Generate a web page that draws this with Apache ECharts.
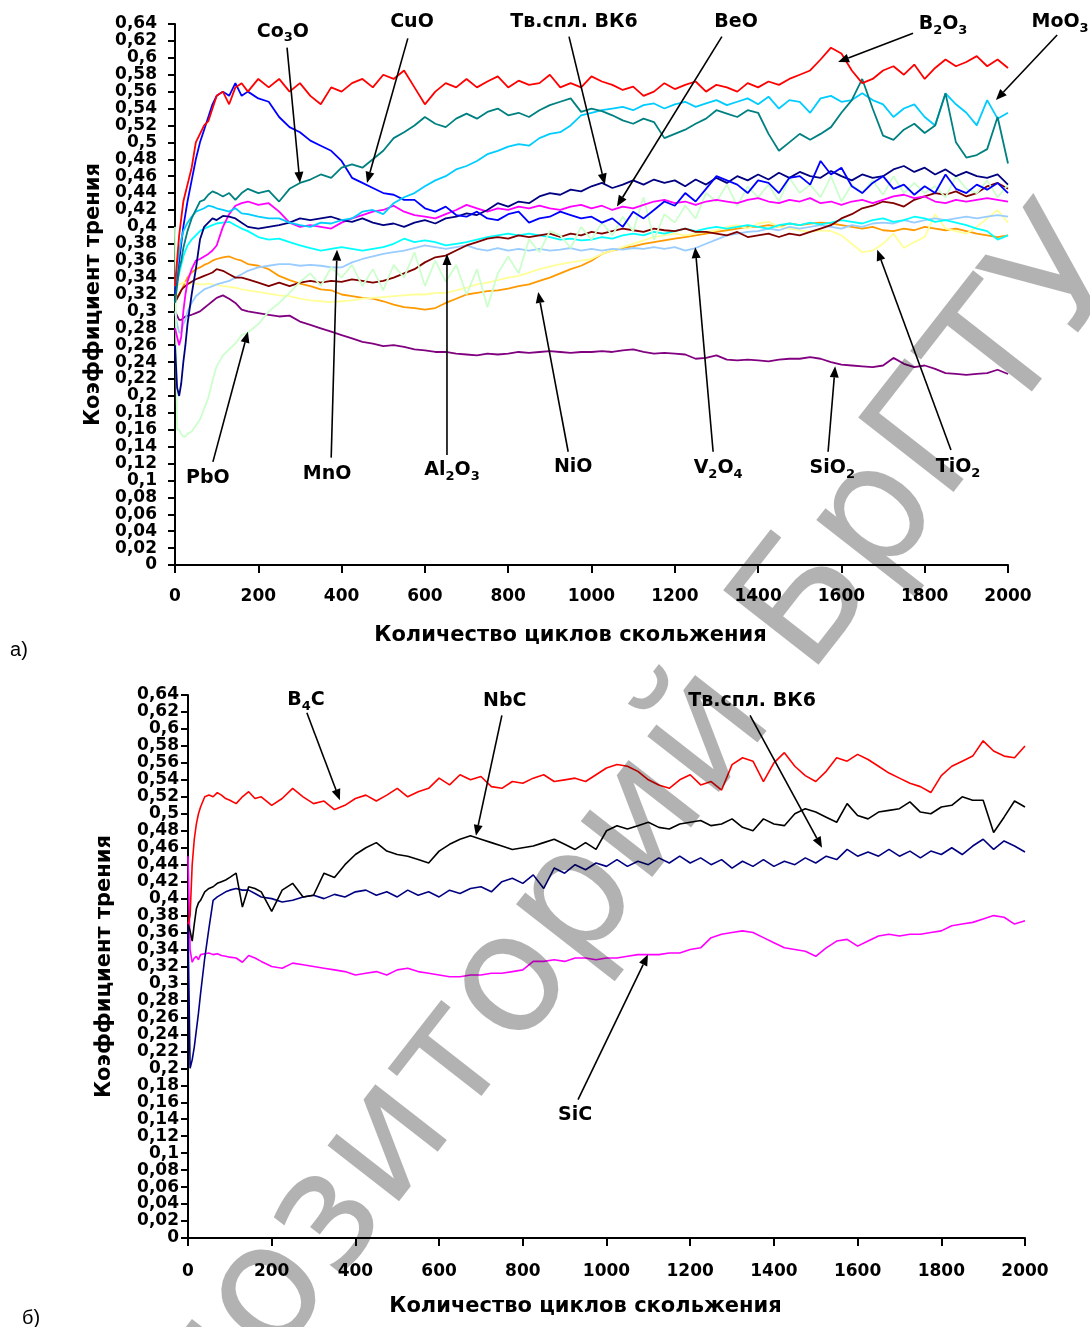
<!DOCTYPE html>
<html><head><meta charset="utf-8">
<script src="https://cdn.jsdelivr.net/npm/echarts@6/dist/echarts.min.js"></script>
<style>html,body{margin:0;padding:0;background:#fff}#c{width:1090px;height:1327px}</style>
</head><body><div id="c"></div>
<script>
// ---- shared x values (sliding cycles) ----
const CYCLES = [0,5,10,15,20,25,30,40,50,60,70,80,90,100,115,130,145,160,175,
 200,225,250,275,300,325,350,375,400,425,
 450,475,500,525,550,575,600,625,650,675,
 700,725,750,775,800,825,850,875,900,925,
 950,975,1000,1025,1050,1075,1100,1125,1150,1175,
 1200,1225,1250,1275,1300,1325,1350,1375,1400,1425,
 1450,1475,1500,1525,1550,1575,1600,1625,1650,1675,
 1700,1725,1750,1775,1800,1825,1850,1875,1900,1925,
 1950,1975,2000];

// ---- panel a) ----
const B2O3 = [0.33,0.36,0.39,0.41,0.43,0.44,0.45,0.47,0.50,0.51,0.52,0.525,0.54,0.555,0.56,0.545,0.565,0.57,0.56,
 0.575,0.565,0.575,0.56,0.57,0.555,0.545,0.565,0.56,0.57,
 0.575,0.565,0.58,0.575,0.585,0.565,0.545,0.56,0.57,0.565,
 0.575,0.565,0.572,0.578,0.565,0.573,0.568,0.57,0.58,0.565,
 0.57,0.565,0.578,0.572,0.568,0.562,0.566,0.555,0.56,0.57,
 0.563,0.568,0.572,0.56,0.568,0.565,0.56,0.57,0.565,0.572,
 0.568,0.575,0.58,0.585,0.598,0.612,0.605,0.585,0.57,0.575,
 0.585,0.59,0.58,0.592,0.575,0.588,0.598,0.59,0.595,0.602,
 0.59,0.598,0.588];
const Co3O = [0.31,0.33,0.35,0.36,0.375,0.385,0.395,0.41,0.42,0.43,0.432,0.438,0.442,0.44,0.436,0.44,0.432,0.44,0.445,
 0.44,0.443,0.43,0.445,0.452,0.456,0.462,0.458,0.47,0.474,
 0.47,0.48,0.49,0.505,0.512,0.52,0.53,0.522,0.518,0.528,
 0.534,0.528,0.536,0.54,0.532,0.535,0.53,0.538,0.544,0.548,
 0.552,0.536,0.54,0.537,0.532,0.526,0.522,0.528,0.524,0.505,
 0.51,0.515,0.522,0.528,0.538,0.534,0.53,0.538,0.535,0.51,
 0.49,0.5,0.51,0.503,0.51,0.518,0.535,0.55,0.575,0.54,
 0.508,0.503,0.515,0.522,0.511,0.52,0.558,0.5,0.482,0.485,
 0.492,0.53,0.475];
const CuO = [0.32,0.34,0.36,0.38,0.40,0.415,0.43,0.455,0.48,0.50,0.515,0.53,0.545,0.555,0.56,0.555,0.57,0.555,0.56,
 0.552,0.548,0.53,0.518,0.512,0.502,0.496,0.49,0.478,0.458,
 0.452,0.446,0.44,0.438,0.432,0.432,0.422,0.418,0.424,0.414,
 0.412,0.418,0.41,0.408,0.415,0.418,0.405,0.41,0.412,0.418,
 0.414,0.41,0.412,0.405,0.41,0.40,0.418,0.41,0.42,0.43,
 0.425,0.44,0.43,0.445,0.46,0.455,0.45,0.44,0.455,0.452,
 0.44,0.458,0.46,0.45,0.478,0.462,0.47,0.448,0.44,0.452,
 0.46,0.445,0.45,0.438,0.448,0.44,0.462,0.445,0.44,0.45,
 0.444,0.452,0.44];
const MoO3 = [0.33,0.35,0.37,0.385,0.395,0.40,0.405,0.412,0.418,0.42,0.422,0.425,0.424,0.422,0.42,0.418,0.422,0.416,0.415,
 0.412,0.41,0.41,0.405,0.402,0.40,0.405,0.404,0.408,0.41,
 0.418,0.42,0.415,0.428,0.435,0.44,0.448,0.455,0.46,0.468,
 0.472,0.478,0.486,0.49,0.495,0.498,0.496,0.505,0.51,0.512,
 0.52,0.532,0.535,0.538,0.54,0.542,0.538,0.544,0.546,0.54,
 0.545,0.548,0.542,0.546,0.55,0.544,0.548,0.552,0.545,0.554,
 0.54,0.55,0.548,0.535,0.552,0.555,0.548,0.55,0.558,0.55,
 0.545,0.53,0.54,0.545,0.53,0.52,0.558,0.545,0.535,0.52,
 0.55,0.528,0.535];
const BeO = [0.28,0.27,0.26,0.27,0.30,0.32,0.335,0.35,0.36,0.362,0.365,0.368,0.372,0.378,0.40,0.415,0.425,0.428,0.43,
 0.426,0.428,0.418,0.405,0.40,0.402,0.40,0.398,0.405,0.41,
 0.414,0.418,0.42,0.425,0.418,0.414,0.412,0.41,0.415,0.42,
 0.426,0.422,0.418,0.422,0.42,0.424,0.422,0.425,0.422,0.42,
 0.424,0.426,0.422,0.425,0.42,0.424,0.422,0.426,0.43,0.432,
 0.428,0.43,0.426,0.43,0.432,0.43,0.428,0.432,0.434,0.43,
 0.428,0.432,0.43,0.434,0.428,0.43,0.426,0.43,0.432,0.428,
 0.432,0.436,0.438,0.434,0.436,0.43,0.428,0.432,0.43,0.432,
 0.434,0.432,0.43];
const VK6_A = [0.26,0.21,0.20,0.215,0.24,0.26,0.285,0.32,0.35,0.385,0.40,0.405,0.41,0.408,0.413,0.412,0.41,0.405,0.40,
 0.398,0.40,0.402,0.405,0.41,0.408,0.41,0.412,0.408,0.406,
 0.41,0.405,0.402,0.404,0.40,0.405,0.408,0.404,0.41,0.412,
 0.416,0.414,0.42,0.428,0.424,0.43,0.428,0.436,0.44,0.438,
 0.444,0.442,0.448,0.452,0.446,0.45,0.455,0.45,0.456,0.452,
 0.455,0.448,0.456,0.45,0.458,0.452,0.46,0.455,0.462,0.456,
 0.464,0.458,0.465,0.46,0.458,0.466,0.46,0.455,0.462,0.458,
 0.46,0.468,0.472,0.465,0.47,0.462,0.468,0.46,0.465,0.46,
 0.458,0.462,0.45];
const MnO = [0.33,0.335,0.345,0.355,0.365,0.372,0.378,0.385,0.39,0.395,0.398,0.40,0.402,0.404,0.405,0.406,0.402,0.398,0.395,
 0.388,0.385,0.386,0.382,0.378,0.375,0.372,0.374,0.376,0.374,
 0.372,0.374,0.376,0.38,0.386,0.382,0.384,0.382,0.378,0.38,
 0.382,0.385,0.388,0.39,0.392,0.39,0.392,0.39,0.388,0.385,
 0.386,0.384,0.385,0.388,0.386,0.39,0.392,0.39,0.394,0.392,
 0.395,0.398,0.395,0.398,0.40,0.398,0.40,0.402,0.40,0.398,
 0.402,0.404,0.402,0.405,0.403,0.405,0.408,0.406,0.404,0.408,
 0.41,0.406,0.408,0.412,0.41,0.406,0.408,0.405,0.402,0.398,
 0.395,0.385,0.39];
const V2O4 = [0.30,0.285,0.275,0.275,0.285,0.29,0.30,0.31,0.318,0.322,0.326,0.328,0.33,0.332,0.334,0.336,0.34,0.344,0.348,
 0.352,0.354,0.356,0.356,0.354,0.355,0.354,0.352,0.352,0.358,
 0.362,0.365,0.368,0.37,0.372,0.375,0.378,0.376,0.374,0.376,
 0.378,0.374,0.372,0.375,0.372,0.374,0.372,0.374,0.372,0.373,
 0.375,0.372,0.374,0.372,0.374,0.373,0.375,0.374,0.376,0.374,
 0.376,0.372,0.375,0.38,0.385,0.39,0.392,0.394,0.395,0.398,
 0.396,0.40,0.398,0.40,0.402,0.40,0.398,0.402,0.40,0.404,
 0.405,0.404,0.408,0.405,0.408,0.41,0.408,0.41,0.412,0.41,
 0.412,0.414,0.412];
const Al2O3 = [0.31,0.315,0.32,0.325,0.328,0.33,0.332,0.335,0.338,0.34,0.342,0.344,0.346,0.35,0.348,0.344,0.34,0.34,0.338,
 0.334,0.33,0.334,0.33,0.334,0.336,0.334,0.336,0.335,0.338,
 0.336,0.334,0.336,0.34,0.345,0.35,0.358,0.364,0.366,0.372,
 0.378,0.382,0.386,0.388,0.386,0.39,0.388,0.39,0.392,0.388,
 0.392,0.39,0.394,0.392,0.395,0.398,0.396,0.394,0.398,0.396,
 0.395,0.398,0.394,0.394,0.392,0.39,0.394,0.388,0.39,0.392,
 0.388,0.392,0.39,0.394,0.398,0.402,0.41,0.415,0.422,0.425,
 0.43,0.428,0.424,0.432,0.436,0.44,0.438,0.442,0.436,0.44,
 0.448,0.452,0.445];
const NiO = [0.32,0.318,0.32,0.325,0.33,0.335,0.34,0.346,0.35,0.352,0.355,0.357,0.36,0.362,0.364,0.365,0.362,0.36,0.356,
 0.354,0.35,0.342,0.337,0.333,0.33,0.326,0.325,0.32,0.318,
 0.316,0.315,0.312,0.308,0.305,0.304,0.302,0.304,0.31,0.315,
 0.32,0.322,0.324,0.325,0.327,0.33,0.332,0.336,0.34,0.345,
 0.35,0.354,0.36,0.368,0.372,0.375,0.377,0.38,0.382,0.384,
 0.386,0.388,0.39,0.392,0.394,0.396,0.398,0.40,0.40,0.402,
 0.40,0.404,0.402,0.404,0.405,0.404,0.402,0.40,0.398,0.40,
 0.396,0.395,0.398,0.396,0.40,0.398,0.396,0.398,0.395,0.392,
 0.39,0.388,0.39];
const SiO2 = [0.30,0.295,0.29,0.29,0.292,0.294,0.295,0.296,0.298,0.30,0.304,0.308,0.312,0.316,0.319,0.315,0.31,0.302,0.30,
 0.298,0.296,0.294,0.295,0.288,0.284,0.28,0.276,0.272,0.268,
 0.264,0.262,0.259,0.26,0.258,0.255,0.254,0.252,0.252,0.25,
 0.249,0.248,0.25,0.249,0.25,0.252,0.251,0.252,0.253,0.252,
 0.251,0.252,0.252,0.253,0.252,0.254,0.255,0.252,0.25,0.251,
 0.25,0.249,0.244,0.245,0.248,0.243,0.242,0.243,0.242,0.241,
 0.243,0.244,0.244,0.246,0.244,0.24,0.237,0.236,0.235,0.234,
 0.236,0.245,0.238,0.234,0.236,0.232,0.227,0.226,0.225,0.226,
 0.227,0.231,0.226];
const TiO2 = [0.33,0.33,0.332,0.333,0.334,0.334,0.334,0.333,0.333,0.332,0.332,0.333,0.332,0.331,0.33,0.329,0.328,0.326,0.325,
 0.323,0.321,0.319,0.318,0.315,0.313,0.312,0.311,0.312,0.313,
 0.315,0.316,0.317,0.318,0.319,0.32,0.32,0.322,0.322,0.325,
 0.328,0.332,0.334,0.337,0.34,0.342,0.346,0.35,0.353,0.356,
 0.358,0.36,0.362,0.368,0.372,0.376,0.38,0.384,0.388,0.39,
 0.392,0.39,0.392,0.394,0.396,0.40,0.402,0.398,0.404,0.406,
 0.40,0.398,0.396,0.394,0.396,0.395,0.39,0.38,0.37,0.372,
 0.38,0.392,0.375,0.382,0.388,0.415,0.398,0.395,0.392,0.40,
 0.41,0.42,0.405];
const PbO = [0.40,0.16,0.16,0.155,0.152,0.152,0.155,0.158,0.165,0.172,0.185,0.198,0.218,0.235,0.248,0.255,0.262,0.272,0.275,
 0.285,0.30,0.31,0.322,0.335,0.345,0.33,0.352,0.34,0.355,
 0.33,0.35,0.325,0.355,0.34,0.37,0.33,0.36,0.335,0.355,
 0.32,0.35,0.305,0.345,0.365,0.345,0.385,0.37,0.395,0.39,
 0.375,0.40,0.385,0.405,0.39,0.412,0.395,0.435,0.385,0.415,
 0.405,0.425,0.41,0.44,0.43,0.45,0.425,0.448,0.435,0.45,
 0.43,0.458,0.44,0.45,0.435,0.46,0.43,0.45,0.44,0.455,
 0.438,0.46,0.44,0.452,0.44,0.448,0.435,0.46,0.445,0.44,
 0.455,0.435,0.45];

// ---- panel б) ----
const B4C = [0.37,0.38,0.44,0.47,0.488,0.50,0.508,0.52,0.522,0.52,0.525,0.522,0.518,0.516,0.512,0.52,0.526,0.518,0.52,
 0.51,0.518,0.53,0.52,0.512,0.515,0.505,0.51,0.518,0.522,
 0.515,0.522,0.53,0.52,0.526,0.53,0.542,0.534,0.546,0.54,
 0.544,0.532,0.53,0.538,0.536,0.542,0.546,0.538,0.54,0.542,
 0.538,0.546,0.554,0.558,0.556,0.55,0.54,0.534,0.53,0.54,
 0.546,0.534,0.538,0.528,0.558,0.566,0.562,0.538,0.56,0.572,
 0.556,0.545,0.538,0.55,0.566,0.562,0.57,0.564,0.556,0.548,
 0.542,0.536,0.532,0.525,0.545,0.556,0.562,0.568,0.586,0.574,
 0.568,0.566,0.58];
const NbC = [0.37,0.362,0.35,0.37,0.388,0.395,0.398,0.408,0.412,0.414,0.418,0.42,0.422,0.425,0.43,0.39,0.414,0.412,0.408,
 0.385,0.41,0.418,0.402,0.404,0.43,0.425,0.44,0.452,0.46,
 0.466,0.456,0.452,0.45,0.446,0.442,0.456,0.464,0.47,0.474,
 0.47,0.466,0.462,0.458,0.46,0.462,0.466,0.47,0.464,0.458,
 0.466,0.458,0.48,0.486,0.482,0.486,0.49,0.484,0.482,0.488,
 0.49,0.492,0.486,0.488,0.494,0.484,0.48,0.494,0.488,0.486,
 0.50,0.506,0.502,0.496,0.49,0.512,0.498,0.494,0.502,0.504,
 0.506,0.514,0.502,0.50,0.508,0.51,0.52,0.516,0.516,0.478,
 0.496,0.515,0.508];
const VK6_B = [0.37,0.20,0.21,0.225,0.245,0.265,0.288,0.33,0.365,0.398,0.402,0.405,0.408,0.41,0.412,0.41,0.41,0.406,0.402,
 0.40,0.396,0.398,0.402,0.404,0.40,0.405,0.402,0.408,0.41,
 0.404,0.408,0.402,0.41,0.404,0.408,0.402,0.41,0.406,0.412,
 0.414,0.408,0.42,0.424,0.418,0.428,0.412,0.436,0.43,0.44,
 0.434,0.442,0.438,0.446,0.438,0.444,0.44,0.448,0.442,0.45,
 0.442,0.448,0.44,0.446,0.436,0.444,0.438,0.446,0.438,0.444,
 0.44,0.448,0.442,0.45,0.446,0.458,0.45,0.455,0.45,0.458,
 0.45,0.456,0.448,0.456,0.452,0.46,0.452,0.462,0.47,0.458,
 0.468,0.462,0.455];
const SiC = [0.45,0.34,0.325,0.33,0.332,0.328,0.334,0.335,0.336,0.334,0.335,0.333,0.332,0.331,0.33,0.325,0.333,0.33,0.326,
 0.32,0.318,0.324,0.322,0.32,0.318,0.316,0.314,0.31,0.312,
 0.314,0.31,0.316,0.318,0.314,0.312,0.31,0.308,0.308,0.31,
 0.31,0.312,0.312,0.314,0.316,0.326,0.326,0.328,0.326,0.33,
 0.33,0.328,0.33,0.33,0.332,0.334,0.334,0.334,0.336,0.336,
 0.34,0.342,0.354,0.358,0.36,0.362,0.36,0.354,0.348,0.342,
 0.34,0.338,0.332,0.342,0.35,0.352,0.344,0.35,0.356,0.358,
 0.356,0.358,0.358,0.36,0.362,0.368,0.37,0.372,0.376,0.38,
 0.378,0.37,0.374];

// ---- annotations: [label, label point, arrow tail, arrow tip] in data units ----
const ANN_A = [
 ['{n|Co}{s|3}{n|O}', [259,0.631], [269,0.612], [300,0.452]],
 ['{n|CuO}', [569,0.642], [559,0.623], [461,0.452]],
 ['{n|Тв.спл. ВК6}', [958,0.642], [946,0.625], [1032,0.450]],
 ['{n|BeO}', [1347,0.642], [1313,0.625], [1061,0.424]],
 ['{n|B}{s|2}{n|O}{s|3}', [1844,0.640], [1772,0.629], [1592,0.595]],
 ['{n|MoO}{s|3}', [2125,0.642], [2118,0.627], [1971,0.550]],
 ['{n|PbO}', [79,0.103], [91,0.122], [175,0.276]],
 ['{n|MnO}', [365,0.108], [375,0.127], [389,0.373]],
 ['{n|Al}{s|2}{n|O}{s|3}', [665,0.112], [653,0.130], [653,0.368]],
 ['{n|NiO}', [956,0.116], [944,0.134], [872,0.323]],
 ['{n|V}{s|2}{n|O}{s|4}', [1304,0.115], [1292,0.134], [1249,0.376]],
 ['{n|SiO}{s|2}', [1578,0.115], [1568,0.134], [1585,0.235]],
 ['{n|TiO}{s|2}', [1880,0.116], [1863,0.136], [1686,0.373]]
];
const ANN_B = [
 ['{n|B}{s|4}{n|C}', [282,0.634], [284,0.619], [363,0.516]],
 ['{n|NbC}', [757,0.633], [750,0.616], [688,0.474]],
 ['{n|Тв.спл. ВК6}', [1348,0.633], [1343,0.616], [1515,0.460]],
 ['{n|SiC}', [925,0.145], [932,0.163], [1099,0.334]]
];

const FONT = 'DejaVu Sans';
const X_TITLE = 'Количество циклов скольжения';
const Y_TITLE = 'Коэффициент трения';

const chart = echarts.init(document.getElementById('c'), null, {renderer: 'canvas'});
const pairs = ys => CYCLES.map((x, i) => [x, ys[i]]);
const fmtY = v => String(Math.round(v * 100) / 100).replace('.', ',');
const fmtX = v => String(Math.round(v));

function xAxis(gi, margin, gap) {
  return {
    type: 'value', gridIndex: gi, min: 0, max: 2000, interval: 200,
    name: X_TITLE, nameLocation: 'middle', nameGap: gap,
    nameTextStyle: {fontFamily: FONT, fontWeight: 'bold', fontSize: 21, color: '#000', padding: [0, 42, 0, 0]},
    axisLine: {show: true, onZero: false, lineStyle: {color: '#000', width: 2}},
    axisTick: {show: true, inside: false, length: 8, lineStyle: {color: '#000', width: 2}},
    axisLabel: {fontFamily: FONT, fontWeight: 'bold', fontSize: 17, color: '#000', margin: margin, formatter: fmtX},
    splitLine: {show: false}
  };
}
function yAxis(gi, margin, gap) {
  return {
    type: 'value', gridIndex: gi, min: 0, max: 0.64, interval: 0.02,
    name: Y_TITLE, nameLocation: 'middle', nameGap: gap, nameRotate: 90,
    nameTextStyle: {fontFamily: FONT, fontWeight: 'bold', fontSize: 21, color: '#000'},
    axisLine: {show: true, onZero: false, lineStyle: {color: '#000', width: 2}},
    axisTick: {show: true, inside: false, length: 7, lineStyle: {color: '#000', width: 2}},
    axisLabel: {fontFamily: FONT, fontWeight: 'bold', fontSize: 17, color: '#000', margin: margin, formatter: fmtY},
    splitLine: {show: false}
  };
}
function line(gi, data, color, width) {
  return {
    type: 'line', xAxisIndex: gi, yAxisIndex: gi, data: pairs(data),
    showSymbol: false, symbol: 'none', animation: false, silent: true,
    lineStyle: {color: color, width: width}, itemStyle: {color: color}
  };
}

const WA = 1.8, WB = 1.6;
chart.setOption({
  backgroundColor: '#fff',
  animation: false,
  grid: [
    {left: 175, top: 24, width: 833, height: 541},
    {left: 188, top: 695, width: 837, height: 543}
  ],
  xAxis: [xAxis(0, 23, 60), xAxis(1, 25, 58)],
  yAxis: [yAxis(0, 18, 70), yAxis(1, 9, 73)],
  series: [
    line(0, SiO2, '#800080', WA),
    line(0, NiO, '#FF9900', WA),
    line(0, TiO2, '#FFFF99', WA),
    line(0, V2O4, '#99CCFF', WA),
    line(0, MnO, '#00FFFF', WA),
    line(0, Al2O3, '#800000', WA),
    line(0, PbO, '#CCFFCC', WA),
    line(0, BeO, '#FF00FF', WA),
    line(0, VK6_A, '#000080', WA),
    line(0, CuO, '#0000FF', WA),
    line(0, MoO3, '#00CCFF', WA),
    line(0, Co3O, '#008080', WA),
    line(0, B2O3, '#FF0000', WA),
    line(1, SiC, '#FF00FF', WB),
    line(1, VK6_B, '#000080', WB),
    line(1, NbC, '#000000', WB),
    line(1, B4C, '#FF0000', WB)
  ]
});

const RICH = {
  n: {fontFamily: FONT, fontWeight: 'bold', fontSize: 19, fill: '#000', lineHeight: 26, verticalAlign: 'middle'},
  s: {fontFamily: FONT, fontWeight: 'bold', fontSize: 13, fill: '#000', lineHeight: 14, verticalAlign: 'bottom'}
};
const graphics = [];
function addAnn(list, gi) {
  list.forEach(a => {
    const lp = chart.convertToPixel({gridIndex: gi}, a[1]);
    const t0 = chart.convertToPixel({gridIndex: gi}, a[2]);
    const t1 = chart.convertToPixel({gridIndex: gi}, a[3]);
    graphics.push({type: 'text', x: lp[0], y: lp[1], z: 50, silent: true,
      style: {text: a[0], rich: RICH, align: 'center', verticalAlign: 'middle'}});
    const dx = t1[0] - t0[0], dy = t1[1] - t0[1], L = Math.hypot(dx, dy);
    const ux = dx / L, uy = dy / L, HL = 11, HW = 4.5;
    const bx = t1[0] - ux * HL, by = t1[1] - uy * HL;
    graphics.push({type: 'line', z: 50, silent: true,
      shape: {x1: t0[0], y1: t0[1], x2: bx, y2: by}, style: {stroke: '#000', lineWidth: 1.6}});
    graphics.push({type: 'polygon', z: 50, silent: true,
      shape: {points: [[t1[0], t1[1]], [bx - uy * HW, by + ux * HW], [bx + uy * HW, by - ux * HW]]},
      style: {fill: '#000'}});
  });
}
addAnn(ANN_A, 0);
addAnn(ANN_B, 1);
graphics.push({type: 'text', x: 19, y: 650, silent: true,
  style: {text: 'а)', fontFamily: 'Liberation Sans Narrow, Liberation Sans', fontSize: 20, fill: '#000', align: 'center', verticalAlign: 'middle'}});
graphics.push({type: 'text', x: 31, y: 1318, silent: true,
  style: {text: 'б)', fontFamily: 'Liberation Sans Narrow, Liberation Sans', fontSize: 20, fill: '#000', align: 'center', verticalAlign: 'middle'}});
graphics.push({type: 'text', x: 572, y: 910, rotation: 52 * Math.PI / 180, z: 100, silent: true,
  style: {text: 'Репозиторий БрГТУ', fontFamily: FONT, fontWeight: 'normal', fontSize: 166, fill: 'rgba(0,0,0,0.3)', align: 'center', verticalAlign: 'middle'}});
chart.setOption({graphic: graphics});
</script>
</body></html>
